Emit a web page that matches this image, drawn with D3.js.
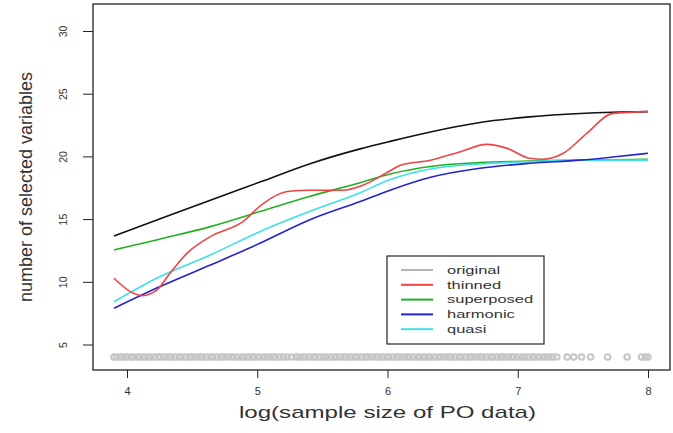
<!DOCTYPE html>
<html>
<head>
<meta charset="utf-8">
<script src="https://d3js.org/d3.v7.min.js"></script>
<style>
    body { margin: 0; background: #fff; }
    svg { font-family: "Liberation Sans", Arial, sans-serif; }
</style>
</head>
<body>
<svg id="chart" width="673" height="433"></svg>
<script>

// x positions (log sample size) shared by the smooth curves
var logSize = [3.9, 4.25, 4.64, 5.02, 5.4, 5.79, 6.02, 6.33, 6.71, 7.09, 7.48, 7.73, 8.0];

// black curve (no legend entry)
var fullModel = [13.65, 15.0, 16.5, 17.95, 19.4, 20.6, 21.2, 21.95, 22.7, 23.15, 23.42, 23.52, 23.57];
var superposed = [12.54, 13.4, 14.4, 15.6, 16.8, 17.9, 18.6, 19.2, 19.5, 19.63, 19.7, 19.73, 19.77];
var harmonic = [7.89, 9.6, 11.34, 13.07, 14.93, 16.4, 17.3, 18.33, 19.05, 19.45, 19.7, 19.95, 20.25];
var quasi = [8.41, 10.4, 12.14, 14.0, 15.6, 17.1, 18.15, 19.0, 19.4, 19.58, 19.7, 19.7, 19.7];

// thinned wiggles more, so it has its own x positions
var thinnedX = [3.9, 4.05, 4.12, 4.23, 4.33, 4.46, 4.64, 4.89, 5.04, 5.23, 5.4, 5.66, 5.81, 6.02, 6.1, 6.33, 6.56, 6.76, 6.92, 7.09, 7.19, 7.35, 7.53, 7.73, 8.0];
var thinned = [10.28, 9.08, 8.9, 9.35, 10.68, 12.27, 13.6, 14.8, 16.2, 17.2, 17.3, 17.3, 17.7, 18.85, 19.3, 19.7, 20.37, 20.96, 20.64, 19.85, 19.77, 20.25, 21.84, 23.43, 23.57];

// rug of the original PO sample sizes, drawn at y = 4
var originalSizes = [3.90, 3.92, 3.95, 3.97, 4.00, 4.03, 4.05, 4.08, 4.10, 4.13, 4.16, 4.18, 4.21, 4.24, 4.26, 4.29,
    4.32, 4.34, 4.37, 4.40, 4.42, 4.45, 4.48, 4.50, 4.53, 4.56, 4.58, 4.61, 4.64, 4.66, 4.69, 4.72, 4.74, 4.77,
    4.80, 4.82, 4.85, 4.88, 4.90, 4.93, 4.96, 4.98, 5.01, 5.04, 5.06, 5.09, 5.12, 5.14, 5.17, 5.20, 5.23, 5.26,
    5.30, 5.32, 5.35, 5.37, 5.40, 5.43, 5.45, 5.48, 5.51, 5.53, 5.56, 5.59, 5.61, 5.64, 5.67, 5.69, 5.72, 5.75,
    5.77, 5.80, 5.83, 5.85, 5.88, 5.91, 5.93, 5.96, 5.99, 6.01, 6.04, 6.07, 6.09, 6.12, 6.15, 6.17, 6.20, 6.23,
    6.25, 6.28, 6.31, 6.33, 6.36, 6.39, 6.41, 6.44, 6.47, 6.49, 6.52, 6.55, 6.57, 6.60, 6.63, 6.65, 6.68, 6.71,
    6.73, 6.76, 6.79, 6.81, 6.84, 6.87, 6.89, 6.92, 6.95, 6.97, 7.00, 7.03, 7.05, 7.08, 7.11, 7.13, 7.16, 7.19,
    7.21, 7.24, 7.27, 7.30, 7.38, 7.43, 7.49, 7.56, 7.69, 7.84, 7.95, 7.98, 8.00];
var rugLevel = 4;

var xTicks = [4, 5, 6, 7, 8];
var yTicks = [5, 10, 15, 20, 25, 30];

var legendNames = ["original", "thinned", "superposed", "harmonic", "quasi"];
var legendColors = ["#b4b4b4", "#ee4444", "#22b022", "#2424cc", "#3ee0e8"];


// SVG drawing area
margin = {top: 4, right: 3, bottom: 63, left: 93};
width = 673 - margin.left - margin.right;
height = 433 - margin.top - margin.bottom;

svg = d3.select("#chart")
    .append("g")
    .attr("transform", "translate(" + margin.left + "," + margin.top + ")");

// set the ranges (R style, 4% padding each side)
x = d3.scaleLinear()
    .range([0, width])
    .domain([3.739, 8.169]);

y = d3.scaleLinear()
    .range([height, 0])
    .domain([2.967, 32.153]);

// axes
xAxis = svg.append("g")
    .attr("class", "x-axis")
    .attr("transform", "translate(0," + height + ")")
    .call(d3.axisBottom(x).tickValues(xTicks).tickSize(8).tickPadding(9).tickFormat(d3.format("d")));

xAxis.select(".domain").remove();
xAxis.selectAll("line").attr("stroke", "#222");
xAxis.selectAll("text")
    .style("font-size", "11px")
    .attr("fill", "#333");

yAxis = svg.append("g")
    .attr("class", "y-axis")
    .call(d3.axisLeft(y).tickValues(yTicks).tickSize(10).tickFormat(d3.format("d")));

yAxis.select(".domain").remove();
yAxis.selectAll("line").attr("stroke", "#222");
yAxis.selectAll("text")
    .attr("x", null)
    .attr("dy", "0.35em")
    .attr("transform", "translate(-30,0) rotate(-90)")
    .style("text-anchor", "middle")
    .style("font-size", "10.5px")
    .attr("fill", "#333");

// rug of the original data
svg.selectAll(".rug")
    .data(originalSizes)
    .enter().append("circle")
    .attr("class", "rug")
    .attr("cx", function(d) { return x(d); })
    .attr("cy", y(rugLevel))
    .attr("r", 2.8)
    .attr("fill", "none")
    .attr("stroke", "#c6c6c6")
    .attr("stroke-width", 2);

// curves
var series = [
    {xs: logSize, ys: fullModel, color: "#111"},
    {xs: logSize, ys: superposed, color: legendColors[2]},
    {xs: logSize, ys: quasi, color: legendColors[4]},
    {xs: logSize, ys: harmonic, color: legendColors[3]},
    {xs: thinnedX, ys: thinned, color: legendColors[1]}
];

line = d3.line()
    .x(function(d) { return x(d[0]); })
    .y(function(d) { return y(d[1]); })
    .curve(d3.curveMonotoneX);

svg.selectAll(".curve")
    .data(series)
    .enter().append("path")
    .attr("class", "curve")
    .attr("d", function(s) { return line(d3.zip(s.xs, s.ys)); })
    .attr("fill", "none")
    .attr("stroke", function(s) { return s.color; })
    .attr("stroke-width", 1.6);

// plot frame
svg.append("rect")
    .attr("width", width)
    .attr("height", height)
    .attr("fill", "none")
    .attr("stroke", "#222")
    .attr("stroke-width", 1.3);

// legend
legend = svg.append("g")
    .attr("transform", "translate(" + (387 - margin.left) + "," + (256 - margin.top) + ")");

legend.append("rect")
    .attr("width", 157)
    .attr("height", 88)
    .attr("fill", "#fff")
    .attr("stroke", "#222")
    .attr("stroke-width", 1.2);

items = legend.selectAll(".item")
    .data(legendNames)
    .enter().append("g")
    .attr("class", "item")
    .attr("transform", function(d, i) { return "translate(0," + (14 + i * 14.8) + ")"; });

items.append("line")
    .attr("x1", 14)
    .attr("x2", 46)
    .attr("stroke", function(d, i) { return legendColors[i]; })
    .attr("stroke-width", 2);

items.append("text")
    .attr("transform", "translate(60,0) scale(1.5,1)")
    .attr("dy", "0.35em")
    .style("font-size", "11px")
    .attr("fill", "#333")
    .text(function(d) { return d; });

// axis titles
svg.append("text")
    .attr("x", x(6))
    .attr("y", height + 48)
    .attr("text-anchor", "middle")
    .attr("textLength", 297)
    .attr("lengthAdjust", "spacingAndGlyphs")
    .style("font-size", "17px")
    .attr("fill", "#333")
    .text("log(sample size of PO data)");

svg.append("text")
    .attr("transform", "translate(" + (32 - margin.left) + "," + (187 - margin.top) + ") rotate(-90)")
    .attr("text-anchor", "middle")
    .attr("textLength", 230)
    .attr("lengthAdjust", "spacingAndGlyphs")
    .style("font-size", "18px")
    .attr("fill", "#333")
    .text("number of selected variables");

</script>
</body>
</html>
